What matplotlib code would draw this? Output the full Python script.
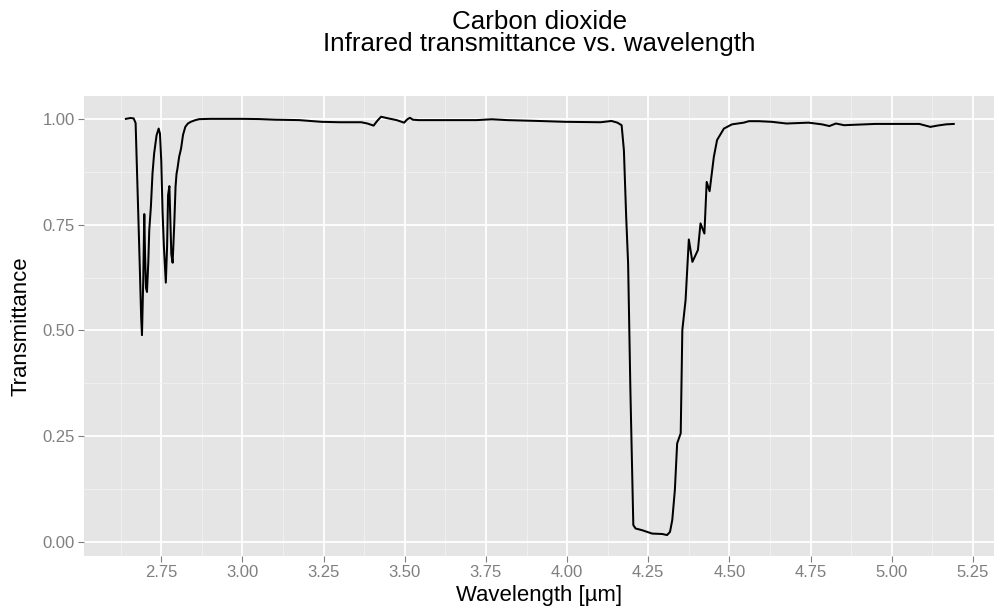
import matplotlib
matplotlib.use('Agg')
import matplotlib.pyplot as plt

plt.rcParams['font.family'] = ['Liberation Sans', 'DejaVu Sans']

# Data
wavelength = [
    2.641, 2.655, 2.665, 2.671, 2.674, 2.680, 2.6844, 2.688, 2.6906, 2.6945,
    2.6977, 2.700, 2.703, 2.706, 2.710, 2.713, 2.718, 2.723, 2.728, 2.7355,
    2.742, 2.746, 2.750, 2.754, 2.758, 2.764, 2.768, 2.771, 2.775, 2.778,
    2.781, 2.785, 2.790, 2.794, 2.797, 2.800, 2.805, 2.811, 2.817, 2.824,
    2.832, 2.841, 2.855, 2.867, 2.90, 3.00, 3.05, 3.10, 3.175, 3.243,
    3.30, 3.366, 3.385, 3.404, 3.415, 3.427, 3.45, 3.475, 3.498, 3.508,
    3.516, 3.525, 3.543, 3.65, 3.721, 3.768, 3.816, 3.912, 3.994, 4.103,
    4.137, 4.155, 4.168, 4.175, 4.182, 4.188, 4.195, 4.204, 4.211, 4.231,
    4.262, 4.293, 4.308, 4.317, 4.324, 4.332, 4.339, 4.350, 4.355, 4.365,
    4.375, 4.386, 4.403, 4.411, 4.423, 4.430, 4.439, 4.452, 4.462, 4.483,
    4.508, 4.544, 4.56, 4.59, 4.63, 4.676, 4.744, 4.785, 4.808, 4.828,
    4.853, 4.949, 5.085, 5.119, 5.14, 5.167, 5.191,
]
transmittance = [
    1.000, 1.002, 1.001, 0.990, 0.910, 0.753, 0.635, 0.532, 0.489, 0.620,
    0.775, 0.680, 0.600, 0.591, 0.660, 0.737, 0.792, 0.871, 0.918, 0.961,
    0.977, 0.965, 0.900, 0.780, 0.700, 0.613, 0.700, 0.820, 0.841, 0.760,
    0.680, 0.660, 0.750, 0.840, 0.870, 0.883, 0.910, 0.930, 0.962, 0.981,
    0.989, 0.993, 0.997, 0.9993, 1.000, 1.000, 0.9995, 0.998, 0.997, 0.993,
    0.992, 0.992, 0.989, 0.984, 0.995, 1.005, 1.001, 0.997, 0.991, 0.999,
    1.0025, 0.998, 0.997, 0.997, 0.997, 0.999, 0.997, 0.995, 0.993, 0.992,
    0.995, 0.991, 0.985, 0.926, 0.769, 0.658, 0.359, 0.040, 0.032, 0.028,
    0.020, 0.019, 0.0165, 0.024, 0.052, 0.123, 0.233, 0.257, 0.501, 0.572,
    0.715, 0.662, 0.690, 0.753, 0.729, 0.851, 0.829, 0.910, 0.950, 0.977,
    0.987, 0.991, 0.9945, 0.9945, 0.993, 0.989, 0.991, 0.987, 0.983, 0.989,
    0.985, 0.988, 0.988, 0.981, 0.984, 0.987, 0.988,
]

x_ticks = [2.75, 3.00, 3.25, 3.50, 3.75, 4.00, 4.25, 4.50, 4.75, 5.00, 5.25]
x_minor = [2.625, 2.875, 3.125, 3.375, 3.625, 3.875, 4.125, 4.375, 4.625, 4.875, 5.125]
y_ticks = [0.00, 0.25, 0.50, 0.75, 1.00]
y_minor = [0.125, 0.375, 0.625, 0.875]

W, H = 995, 608
fig = plt.figure(figsize=(W / 100, H / 100), dpi=100)
ax = fig.add_axes([84 / W, 52 / H, 910 / W, 460 / H])
ax.set_facecolor('#E5E5E5')

ax.plot(wavelength, transmittance, color='black', lw=1.45, solid_joinstyle='round')

ax.set_xlim(2.512, 5.315)
ax.set_ylim(-0.033, 1.054)
ax.set_xticks(x_ticks)
ax.set_xticklabels([f'{v:.2f}' for v in x_ticks])
ax.set_xticks(x_minor, minor=True)
ax.set_yticks(y_ticks)
ax.set_yticklabels([f'{v:.2f}' for v in y_ticks])
ax.set_yticks(y_minor, minor=True)

ax.set_axisbelow(True)
ax.grid(which='major', color='white', lw=1.3)
ax.grid(which='minor', color='#F2F2F2', lw=0.6)
ax.tick_params(which='minor', length=0)
ax.tick_params(which='major', length=4.5, width=0.8, color='#7F7F7F',
               labelcolor='#7F7F7F', labelsize=12, pad=2)
for s in ax.spines.values():
    s.set_visible(False)

fig.text(539.5 / W, 1 - 29.3 / H, 'Carbon dioxide', ha='center', va='baseline', fontsize=18.7)
fig.text(539.5 / W, 1 - 51 / H, 'Infrared transmittance vs. wavelength', ha='center',
         va='baseline', fontsize=18.7)
fig.text(539.5 / W, 1 - 596 / H, 'Wavelength [µm]', ha='center', va='center', fontsize=15.9)
fig.text(21 / W, 1 - 326 / H, 'Transmittance', ha='center', va='center', rotation=90, fontsize=15.9)

fig.savefig('out.png', dpi=100)
